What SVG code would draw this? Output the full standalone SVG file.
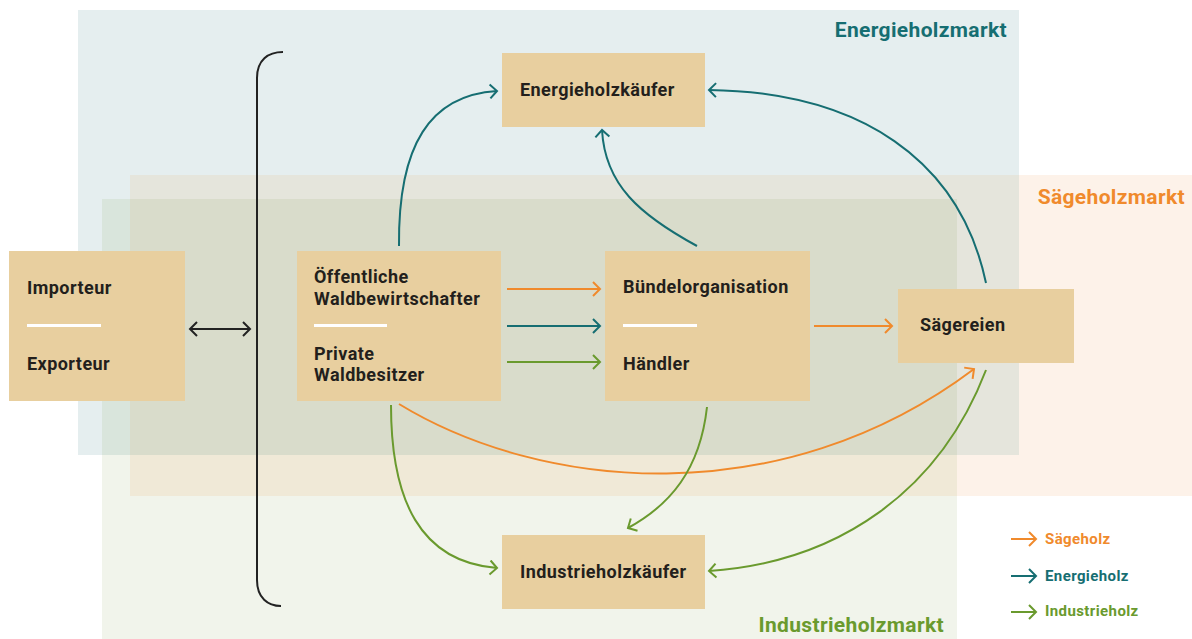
<svg xmlns="http://www.w3.org/2000/svg" width="1192" height="639" viewBox="0 0 1192 639">
<defs>
<style>
.node rect.box{fill:#e8cf9f}
.lbl{font-family:Roboto,"Liberation Sans",sans-serif;font-weight:bold;font-size:18px;letter-spacing:0.45px;fill:#231f1c}
.mkt{font-family:Roboto,"Liberation Sans",sans-serif;font-weight:bold;font-size:21px;letter-spacing:0.35px}
.leg{font-family:Roboto,"Liberation Sans",sans-serif;font-weight:bold;font-size:15px;letter-spacing:0.4px}
.sep{fill:#ffffff}
.c{fill:none;stroke-width:2}
.o{stroke:#f08a2c}
.t{stroke:#166e72}
.g{stroke:#6a9a2e}
.k{stroke:#222222}
</style>
<marker id="mo" markerUnits="userSpaceOnUse" markerWidth="16" markerHeight="16" viewBox="-10 -8 12 16" refX="0" refY="0" orient="auto"><path d="M-7,-7 L0,0 L-7,7" fill="none" stroke="#f08a2c" stroke-width="2"/></marker>
<marker id="mt" markerUnits="userSpaceOnUse" markerWidth="16" markerHeight="16" viewBox="-10 -8 12 16" refX="0" refY="0" orient="auto"><path d="M-7,-7 L0,0 L-7,7" fill="none" stroke="#166e72" stroke-width="2"/></marker>
<marker id="mg" markerUnits="userSpaceOnUse" markerWidth="16" markerHeight="16" viewBox="-10 -8 12 16" refX="0" refY="0" orient="auto"><path d="M-7,-7 L0,0 L-7,7" fill="none" stroke="#6a9a2e" stroke-width="2"/></marker>
<marker id="mk" markerUnits="userSpaceOnUse" markerWidth="16" markerHeight="16" viewBox="-10 -8 12 16" refX="0" refY="0" orient="auto-start-reverse"><path d="M-7,-7 L0,0 L-7,7" fill="none" stroke="#222222" stroke-width="2"/></marker>
</defs>
<rect width="1192" height="639" fill="#ffffff"/>
<g id="markets">
<rect x="78" y="10" width="941" height="445" fill="#e5eeef"/>
<rect x="130" y="175" width="1062" height="321" fill="#fdf2e9"/>
<rect x="102" y="199" width="855" height="440" fill="#f1f4eb"/>
<rect x="130" y="175" width="889" height="280" fill="#e5e5dc"/>
<rect x="102" y="199" width="855" height="256" fill="#d9e5dc"/>
<rect x="130" y="199" width="827" height="297" fill="#f0e9d7"/>
<rect x="130" y="199" width="827" height="256" fill="#d9dccb"/>
<text class="mkt" x="1007" y="37" text-anchor="end" fill="#166e72">Energieholzmarkt</text>
<text class="mkt" x="1185" y="204" text-anchor="end" fill="#f08a2c">Sägeholzmarkt</text>
<text class="mkt" x="944" y="632" text-anchor="end" fill="#6a9a2e">Industrieholzmarkt</text>
</g>
<g id="bracket">
<path class="c k" d="M283,52 C268,52 257,60 257,78 L257,580 C257,598 268,606 281,606"/>
</g>
<g id="importeur" class="node">
<rect class="box" x="9" y="251" width="176" height="150"/>
<text class="lbl" x="27" y="294">Importeur</text>
<rect class="sep" x="27" y="324" width="74" height="3"/>
<text class="lbl" x="27" y="370">Exporteur</text>
</g>
<g id="waldbesitzer" class="node">
<rect class="box" x="297" y="251" width="204" height="150"/>
<text class="lbl" x="314" y="283">Öffentliche</text>
<text class="lbl" x="314" y="305">Waldbewirtschafter</text>
<rect class="sep" x="314" y="324" width="73" height="3"/>
<text class="lbl" x="314" y="360">Private</text>
<text class="lbl" x="314" y="381">Waldbesitzer</text>
</g>
<g id="energieholzkaeufer" class="node">
<rect class="box" x="502" y="53" width="203" height="74"/>
<text class="lbl" x="520" y="96">Energieholzkäufer</text>
</g>
<g id="buendel" class="node">
<rect class="box" x="605" y="251" width="205" height="150"/>
<text class="lbl" x="623" y="293">Bündelorganisation</text>
<rect class="sep" x="623" y="324" width="74" height="3"/>
<text class="lbl" x="623" y="370">Händler</text>
</g>
<g id="saegereien" class="node">
<rect class="box" x="898" y="289" width="176" height="74"/>
<text class="lbl" x="920" y="331">Sägereien</text>
</g>
<g id="industrieholzkaeufer" class="node">
<rect class="box" x="502" y="535" width="203" height="74"/>
<text class="lbl" x="520" y="578">Industrieholzkäufer</text>
</g>
<g id="connectors">
<path class="c k" d="M190,329 L250,329" marker-start="url(#mk)" marker-end="url(#mk)"/>
<path class="c o" d="M507,289 L600,289" marker-end="url(#mo)"/>
<path class="c t" d="M507,326 L600,326" marker-end="url(#mt)"/>
<path class="c g" d="M507,362 L600,362" marker-end="url(#mg)"/>
<path class="c o" d="M814,326 L892,326" marker-end="url(#mo)"/>
<path class="c t" d="M399,246 C398,145 430,95 497,91" marker-end="url(#mt)"/>
<path class="c t" d="M986,283 C960,160 860,92 709,90" marker-end="url(#mt)"/>
<path class="c t" d="M697,246 C640,215 605,185 602,130" marker-end="url(#mt)"/>
<path class="c o" d="M399,404 C540,490 780,515 974,369" marker-end="url(#mo)"/>
<path class="c g" d="M391,405 C391,500 420,562 497,568" marker-end="url(#mg)"/>
<path class="c g" d="M707,407 C700,470 670,505 628,528" marker-end="url(#mg)"/>
<path class="c g" d="M986,370 C940,490 840,562 709,571" marker-end="url(#mg)"/>
</g>
<g id="legend">
<path class="c o" d="M1011,539 L1036,539" marker-end="url(#mo)"/>
<text class="leg" x="1045" y="544" fill="#f08a2c">Sägeholz</text>
<path class="c t" d="M1011,576 L1036,576" marker-end="url(#mt)"/>
<text class="leg" x="1045" y="581" fill="#166e72">Energieholz</text>
<path class="c g" d="M1011,612 L1036,612" marker-end="url(#mg)"/>
<text class="leg" x="1045" y="616" fill="#6a9a2e">Industrieholz</text>
</g>
</svg>
